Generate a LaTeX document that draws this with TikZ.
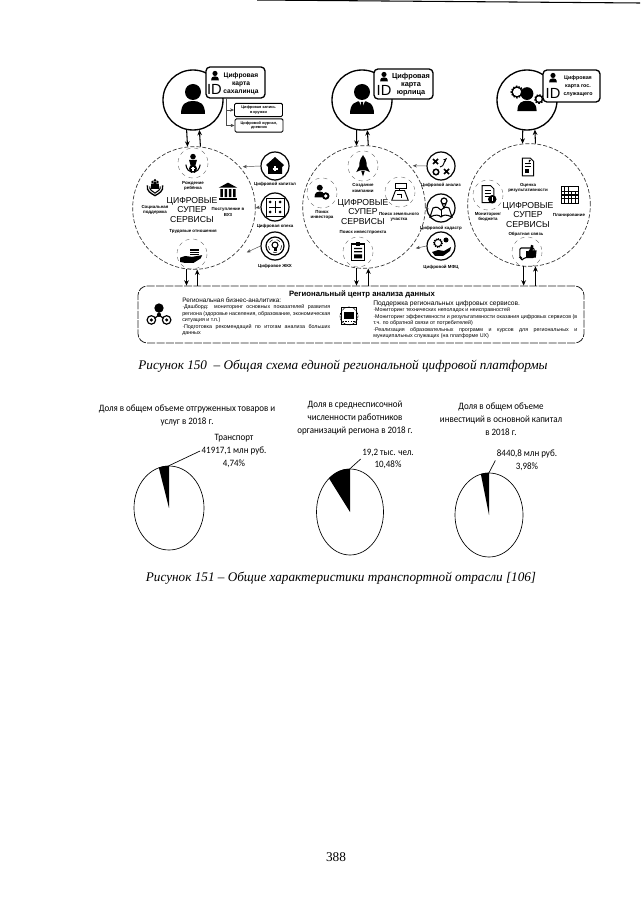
\documentclass[tikz,border=0pt]{standalone}
\usepackage{fontspec}
\setmainfont{Liberation Sans}
\newfontfamily\capfont{Liberation Serif}
\newfontfamily\piefont[FakeStretch=0.92]{Carlito}
\usetikzlibrary{arrows.meta,positioning,calc,shapes.geometric}

\tikzset{
    usrcircle/.style={circle, draw=black, line width=1pt, fill=white, minimum size=45pt, inner sep=0pt},
    srvcircle/.style={circle, draw=black!80, line width=0.5pt, dash pattern=on 3pt off 1.5pt, minimum size=92pt, inner sep=0pt},
    digcircle/.style={circle, draw=black, line width=0.9pt, fill=white, minimum size=21pt, inner sep=0pt},
    halo/.style={draw=black!60, line width=0.3pt, dash pattern=on 3pt off 3pt},
    idcard/.style={draw=black, line width=1pt, rounded corners=3pt, fill=white, inner sep=0pt},
    idtext/.style={font=\fontsize{5}{6}\selectfont\bfseries, align=center, inner sep=0pt},
    idmark/.style={font=\fontsize{11}{11}\selectfont, inner sep=0pt},
    subbox/.style={draw=black, line width=0.7pt, rounded corners=1pt, fill=white, minimum width=36pt, minimum height=10pt, font=\fontsize{2.9}{3.5}\selectfont\bfseries, align=center, inner sep=0pt},
    srvtext/.style={font=\fontsize{6.5}{6.9}\selectfont, align=center, inner sep=0pt},
    tinylabel/.style={font=\fontsize{3.3}{4}\selectfont\bfseries, align=center, inner sep=0pt},
    flowline/.style={-{Stealth[length=4pt,width=3.5pt]}, line width=0.8pt},
    feedline/.style={-{Stealth[length=3pt,width=2.5pt]}, line width=0.35pt, black!70},
    hubbox/.style={draw=black!85, line width=0.6pt, dash pattern=on 6pt off 1pt, rounded corners=7pt, minimum width=334.5pt, minimum height=42.75pt, inner sep=0pt},
    hubtext/.style={font=\fontsize{4}{4.9}\selectfont, text justified, inner sep=0pt, anchor=north west},
    pieshape/.style={ellipse, draw=black, line width=0.5pt, inner sep=0pt},
    pietext/.style={font=\piefont\fontsize{7.3}{9.6}\selectfont, align=center, inner sep=0pt},
    captext/.style={font=\capfont\itshape\fontsize{9.9}{12}\selectfont, inner sep=0pt},
    pics/personicon/.style={code={
        \fill (0,-8) circle (8);
        \fill (-12,14) .. controls (-12,3) and (-6,1) .. (0,1) .. controls (6,1) and (12,3) .. (12,14) -- cycle;
    }},
    pics/suiticon/.style={code={
        \pic {personicon};
        \fill[white] (-3,1) -- (3,1) -- (0,8) -- cycle;
        \fill (-1,2) -- (1,2) -- (1.6,9) -- (0,12) -- (-1.6,9) -- cycle;
    }},
    pics/gearicon/.style={code={
        \draw[line width=1.5pt, dash pattern=on 1pt off 1pt] (-10,-8) circle (5.5);
        \draw[line width=1.5pt, dash pattern=on 1pt off 1pt] (12,-1) circle (4);
        \draw[line width=1pt] (-10,-8) circle (5);
        \draw[line width=1pt] (12,-1) circle (3.5);
        \pic[scale=0.8] {personicon};
    }},
    pics/homeicon/.style={code={
        \fill (-9,-1) -- (0,-9) -- (9,-1) -- (7,1) -- (7,8) -- (-7,8) -- (-7,1) -- cycle;
        \draw[white, line width=0.8pt] (-2.5,3) -- (2.5,3) (0,0.5) -- (0,5.5);
    }},
    pics/boardicon/.style={code={
        \draw[line width=0.7pt] (-9,-9) rectangle (9,9);
        \draw[line width=0.7pt] (-6,0) -- (6,0) (0,-6) -- (0,6);
        \fill (-5,-5) circle (1.5) (5,5) circle (1.5) (-5,5) circle (1.5) (5,-5) circle (1.5);
    }},
    pics/bulbicon/.style={code={
        \draw[line width=0.9pt] (0,0) circle (9);
        \draw[line width=0.4pt, dashed] (0,0) circle (6.5);
        \draw[line width=0.8pt] (0,-1) circle (3);
        \fill (-1.5,2.5) rectangle (1.5,5);
    }},
    pics/tacticicon/.style={code={
        \draw[line width=1.1pt] (-8,-7) -- (-3,-2) (-8,-2) -- (-3,-7);
        \draw[line width=1.1pt] (3,3) -- (8,8) (3,8) -- (8,3);
        \draw[line width=1.1pt] (-5,6) circle (2.8);
        \draw[-{Stealth[length=3pt]}, line width=0.7pt] (-1,1) .. controls (4,0) and (2,-4) .. (6,-8);
    }},
    pics/mapicon/.style={code={
        \draw[line width=0.8pt] (-11,9) -- (-8,0) .. controls (-4,-2) and (-2,0) .. (0,2) .. controls (2,0) and (4,-2) .. (8,0) -- (11,9) .. controls (5,6) and (2,7) .. (0,9) .. controls (-2,7) and (-5,6) .. (-11,9) -- cycle;
        \draw[line width=0.7pt] (0,2) -- (0,9);
        \draw[line width=0.9pt] (3,-7) circle (3);
        \draw[line width=0.8pt] (1,-4.5) -- (3,0) -- (5,-4.5);
    }},
    pics/servicon/.style={code={
        \draw[line width=1.1pt, dash pattern=on 0.8pt off 0.8pt] (-3,-3) circle (4.2);
        \draw[line width=0.7pt] (-3,-3) circle (3.6);
        \fill (5,-6) circle (2.5);
        \fill (-9,6) -- (-3,4) -- (3,5) -- (10,1) -- (9,5) -- (2,10) -- (-6,10) -- cycle;
    }},
    pics/babyicon/.style={code={
        \fill (0,-8) circle (3.5);
        \fill (-5,-4) -- (5,-4) -- (3,3) -- (-3,3) -- cycle;
        \fill (0,7) circle (5);
        \draw[white, line width=0.8pt] (-2.5,7) -- (2.5,7) (0,4.5) -- (0,9.5);
        \draw[line width=0.8pt] (-9,2) .. controls (-8,8) and (-5,11) .. (-1,12);
        \draw[line width=0.8pt] (9,2) .. controls (8,8) and (5,11) .. (1,12);
    }},
    pics/handsicon/.style={code={
        \fill (-3,-7) circle (1.6) (0,-9) circle (1.8) (3,-7) circle (1.6);
        \fill (-4.5,-5) rectangle (-1.5,1) (-1.5,-7) rectangle (1.5,1) (1.5,-5) rectangle (4.5,1);
        \draw[line width=1pt] (-9,-3) .. controls (-10,4) and (-5,6) .. (0,9) .. controls (5,6) and (10,4) .. (9,-3);
        \draw[line width=0.8pt] (-6,-2) .. controls (-7,2) and (-3,4) .. (0,6) .. controls (3,4) and (7,2) .. (6,-2);
    }},
    pics/bankicon/.style={code={
        \fill (-11,-5) -- (0,-11) -- (11,-5) -- cycle;
        \fill (-9,-3.5) rectangle (-6,6) (-4,-3.5) rectangle (-1,6) (1,-3.5) rectangle (4,6) (6,-3.5) rectangle (9,6);
        \fill (-11,7) rectangle (11,10);
    }},
    pics/stackicon/.style={code={
        \fill (-2,-8) rectangle (8,-1);
        \draw[white, line width=0.4pt] (-2,-5.5) -- (8,-5.5) (-2,-3) -- (8,-3);
        \fill (-14,2) -- (-8,0) -- (0,1) -- (12,-1) -- (10,3) -- (2,8) -- (-9,8) -- (-14,7) -- cycle;
    }},
    pics/rocketicon/.style={code={
        \fill (0,-14) .. controls (5,-8) and (5,-2) .. (3.5,4) -- (-3.5,4) .. controls (-5,-2) and (-5,-8) .. (0,-14) -- cycle;
        \fill (-4,-2) -- (-8,6) -- (-3.5,4) -- cycle (4,-2) -- (8,6) -- (3.5,4) -- cycle;
        \fill (-2,5) -- (2,5) -- (0,11) -- cycle;
    }},
    pics/investicon/.style={code={
        \fill (-3,-7) circle (4);
        \fill (-10,6) .. controls (-10,-1) and (-6,-2) .. (-3,-2) .. controls (0,-2) and (2,-1) .. (3,2) -- (3,6) -- cycle;
        \fill (5,4) circle (5);
        \fill[white] (5,4) circle (2.5);
    }},
    pics/landicon/.style={code={
        \draw[line width=0.7pt] (-6,-2) -- (6,-2) -- (11,11) -- (-11,11) -- cycle;
        \draw[line width=0.7pt] (-1,-2) -- (-1,-9);
        \draw[line width=0.7pt, fill=white] (-6,-11) rectangle (8,-5);
        \draw[line width=0.4pt] (-4,3) -- (2,3) -- (2,8);
    }},
    pics/clipicon/.style={code={
        \draw[line width=0.9pt] (-8,-10) rectangle (8,11);
        \fill (-3,-12) rectangle (3,-8);
        \fill (-5,-5) rectangle (5,-3.5) (-5,-1) rectangle (5,0.5) (-5,3) rectangle (5,8);
    }},
    pics/reporticon/.style={code={
        \draw[line width=0.7pt] (-7,-11) -- (3,-11) -- (7,-7) -- (7,11) -- (-7,11) -- cycle;
        \draw[line width=0.5pt] (-4,-4) -- (4,-4) (-4,-1) -- (4,-1);
        \fill (-4,2) rectangle (1,8);
        \fill (1,-9) -- (4,-9) -- (1,-5) -- cycle;
    }},
    pics/budgeticon/.style={code={
        \draw[line width=0.7pt] (-7,-11) -- (3,-11) -- (7,-7) -- (7,9) -- (-7,9) -- cycle;
        \draw[line width=0.5pt] (-4,-5) -- (3,-5) (-4,-2) -- (3,-2) (-4,1) -- (1,1);
        \fill (5,5) circle (5);
        \fill[white] (4.3,2.5) rectangle (5.7,7.5);
    }},
    pics/gridicon/.style={code={
        \draw[line width=0.7pt] (-10,-10) rectangle (10,10);
        \draw[line width=0.8pt] (-6,-10) -- (-6,10) (-2,-10) -- (-2,10) (2,-4) -- (2,10) (6,-4) -- (6,10);
        \draw[line width=0.8pt] (-10,-4) -- (10,-4) (-10,0) -- (10,0) (-10,4) -- (10,4);
    }},
    pics/thumbicon/.style={code={
        \draw[line width=0.8pt, rounded corners=1pt] (-9,-5) -- (9,-5) -- (9,7) -- (-3,7) -- (-7,11) -- (-7,7) -- (-9,7) -- cycle;
        \fill (-1,-1) rectangle (1,7);
        \fill (1,0) -- (4,-4) -- (5,-9) -- (8,-8) -- (7,-2) -- (12,-2) -- (11,7) -- (1,7) -- cycle;
    }},
    pics/hubicon/.style={code={
        \fill (0,-7) circle (5.5);
        \draw[line width=0.9pt] (-9,7) circle (5);
        \draw[line width=0.9pt] (9,7) circle (5);
        \fill (0,1) circle (2.5);
        \draw[line width=0.9pt] (0,-2) -- (0,1) -- (-5,5) (0,1) -- (5,5);
        \fill (-9,7) circle (2) (9,7) circle (2);
    }},
    pics/chipicon/.style={code={
        \draw[line width=0.5pt, dash pattern=on 1.5pt off 0.7pt] (0,0) circle (10);
        \draw[line width=0.7pt] (-8,-9) rectangle (8,9);
        \fill (-6,-5) rectangle (6,3);
        \draw[line width=0.6pt, dash pattern=on 1pt off 1pt] (-7,6) -- (7,6);
    }}
}

\begin{document}
\begin{tikzpicture}[x=0.75pt, y=-0.75pt]
    \useasboundingbox (0,0) rectangle (640,905);
    \fill[white] (0,0) rectangle (640,905);

    % Page rule
    \coordinate (rulea) at (257,0);
    \coordinate (ruleb) at (640,3);
    \draw[line width=0.8pt] (rulea) -- (ruleb);

    % Service circles
    \node[srvcircle] (srv1) at (194,208) {};
    \node[srvcircle] (srv2) at (364,207) {};
    \node[srvcircle] (srv3) at (529,205) {};
    \node[srvtext] (srvt1) at (192,210) {ЦИФРОВЫЕ\\СУПЕР\\СЕРВИСЫ};
    \node[srvtext] (srvt2) at (363,212) {ЦИФРОВЫЕ\\СУПЕР\\СЕРВИСЫ};
    \node[srvtext] (srvt3) at (528,215) {ЦИФРОВЫЕ\\СУПЕР\\СЕРВИСЫ};

    % User circles
    \node[usrcircle] (usr1) at (193,100) {};
    \node[usrcircle] (usr2) at (362,100) {};
    \node[usrcircle] (usr3) at (527,100) {};
    \pic at (193,100) {personicon};
    \pic at (362,100) {suiticon};
    \pic at (527,100) {gearicon};

    % Id cards
    \node[idcard, minimum width=44.25pt, minimum height=23.25pt] (crd1) at (235.5,82.5) {};
    \node[idcard, minimum width=44.25pt, minimum height=22.5pt] (crd2) at (403.5,84) {};
    \node[idcard, minimum width=42.75pt, minimum height=24pt] (crd3) at (571.5,86) {};
    \pic[scale=0.32] at (215,76) {personicon};
    \pic[scale=0.32] at (384,77) {personicon};
    \pic[scale=0.32] at (553,78) {personicon};
    \node[idmark] (idm1) at (214.5,89) {ID};
    \node[idmark] (idm2) at (384,90) {ID};
    \node[idmark] (idm3) at (553,93) {ID};
    \node[idtext] (idt1) at (241,84) {Цифровая\\карта\\сахалинца};
    \node[idtext, font=\fontsize{5.5}{6}\selectfont\bfseries] (idt2) at (411,84.5) {Цифровая\\карта\\юрлица};
    \node[idtext, font=\fontsize{4}{6}\selectfont\bfseries] (idt3) at (578,86) {Цифровая\\карта гос.\\служащего};

    % Sub boxes of the first card
    \node[subbox] (sub1) at (258.5,110) {Цифровая запись\\в кружки};
    \node[subbox] (sub2) at (259,125.5) {Цифровой журнал,\\дневник};
    \coordinate (subj) at (226,98);
    \draw[feedline] (subj) |- (sub1.west);
    \draw[feedline] (subj) |- (sub2.west);

    % User arrows
    \draw[flowline] (usr1.258) -- (srv1.96);
    \draw[flowline] (srv1.84) -- (usr1.282);
    \draw[flowline] (usr2.260) -- (srv2.97);
    \draw[flowline] (srv2.86) -- (usr2.280);
    \draw[flowline] (usr3.262) -- (srv3.96);
    \draw[flowline] (srv3.84) -- (usr3.285);

    % First circle
    \pic[scale=0.8] at (193,163) {babyicon};
    \draw[halo] (193,163) circle (15);
    \node[tinylabel] (lab11) at (193,186) {Рождение\\ребёнка};
    \pic[scale=0.85] at (155,188) {handsicon};
    \node[tinylabel] (lab12) at (155,210) {Социальная\\поддержка};
    \pic[scale=0.85] at (228,192) {bankicon};
    \node[tinylabel] (lab13) at (228,212) {Поступление в\\ВУЗ};
    \node[tinylabel] (lab14) at (193,231) {Трудовые отношения};
    \pic[scale=0.85] at (192,256) {stackicon};
    \draw[halo] (192,254) circle (15);

    % Second circle
    \pic[scale=0.85] at (363,167) {rocketicon};
    \draw[halo] (363,166) circle (15);
    \node[tinylabel] (lab21) at (363,188) {Создание\\компании};
    \pic[scale=0.75] at (322,193) {investicon};
    \draw[halo] (322,193) circle (15);
    \node[tinylabel] (lab22) at (322,215) {Поиск\\инвестора};
    \pic[scale=0.75] at (400,192) {landicon};
    \draw[halo] (400,192) circle (15);
    \node[tinylabel] (lab23) at (399,217) {Поиск земельного\\участка};
    \node[tinylabel] (lab24) at (363,232) {Поиск инвестпроекта};
    \pic[scale=0.8] at (358,252) {clipicon};
    \draw[halo] (358,252) circle (15);

    % Third circle
    \pic[scale=0.8] at (528,167) {reporticon};
    \node[tinylabel] (lab31) at (528,188) {Оценка\\результативности};
    \pic[scale=0.85] at (488,195) {budgeticon};
    \draw[halo] (488,195) circle (15);
    \node[tinylabel] (lab32) at (488,217) {Мониторинг\\бюджета};
    \pic[scale=0.85] at (570,195) {gridicon};
    \node[tinylabel] (lab33) at (569,215) {Планирование};
    \node[tinylabel] (lab34) at (526,234) {Обратная связь};
    \pic[scale=0.8] at (527,252) {thumbicon};
    \draw[halo] (527,252) circle (15);

    % Digital services, left
    \node[digcircle] (dig11) at (275,166) {};
    \node[digcircle] (dig12) at (275,207) {};
    \node[digcircle] (dig13) at (275,246) {};
    \pic at (275,166) {homeicon};
    \pic at (275,207) {boardicon};
    \pic at (275,246) {bulbicon};
    \node[tinylabel] (lab15) at (275,184) {Цифровой капитал};
    \node[tinylabel] (lab16) at (275,226) {Цифровая опека};
    \node[tinylabel] (lab17) at (275,266) {Цифровое ЖКХ};
    \draw[feedline] (dig11.west) -- ($(srv1.42)+(3,0)$);
    \draw[feedline] (dig12.west) -- (srv1.east);
    \draw[feedline] (dig13.west) -- ($(srv1.-46)+(10,0)$);

    % Digital services, right
    \node[digcircle] (dig21) at (441,166) {};
    \node[digcircle] (dig22) at (441,208) {};
    \node[digcircle] (dig23) at (441,246) {};
    \pic at (441,166) {tacticicon};
    \pic at (441,208) {mapicon};
    \pic at (441,246) {servicon};
    \node[tinylabel] (lab25) at (441,185) {Цифровой анализ};
    \node[tinylabel] (lab26) at (441,228) {Цифровой кадастр};
    \node[tinylabel] (lab27) at (441,267) {Цифровой МФЦ};
    \draw[feedline] (dig21.west) -- ($(srv2.42)+(3,0)$);
    \draw[feedline] (dig22.west) -- (srv2.east);
    \draw[feedline] (dig23.west) -- ($(srv2.-42)+(6,0)$);

    % Regional centre
    \node[hubbox] (hub) at (361,314.5) {};
    \node[font=\fontsize{5.8}{6}\selectfont\bfseries, inner sep=0pt] (hubt) at (362,294) {Региональный центр анализа данных};
    \pic[scale=0.85] at (159,314) {hubicon};
    \pic[scale=0.9] at (349,316) {chipicon};
    \node[font=\fontsize{4.8}{5}\selectfont, inner sep=0pt, anchor=west] (hubl) at (182,300) {Региональная бизнес-аналитика:};
    \node[hubtext, text width=111pt] (hubla) at (182,304.5) {·Дашборд: мониторинг основных показателей развития региона (здоровье населения, образование, экономическая\linebreak[4] ситуация и т.п.)\\[0pt]·Подготовка рекомендаций по итогам анализа больших данных};
    \node[font=\fontsize{5}{5}\selectfont, inner sep=0pt, anchor=west] (hubr) at (373,304) {Поддержка региональных цифровых сервисов.};
    \node[hubtext, text width=153pt] (hubra) at (373,307.5) {·Мониторинг технических неполадок и неисправностей\\[0pt]·Мониторинг эффективности и результативности оказания цифровых сервисов (в т.ч. по обратной связи от потребителей)\\[0pt]·Реализация образовательных программ и курсов для региональных и муниципальных служащих (на платформе UX)};

    % Arrows to the centre
    \draw[flowline] (srv1.263) -- (srv1.263 |- hub.north);
    \draw[flowline] (srv1.273 |- hub.north) -- (srv1.273);
    \draw[flowline] (srv2.263) -- (srv2.263 |- hub.north);
    \draw[flowline] (srv2.274 |- hub.north) -- (srv2.274);
    \draw[flowline] (srv3.265) -- (srv3.265 |- hub.north);
    \draw[flowline] (srv3.276 |- hub.north) -- (srv3.276);

    % Captions
    \node[captext] (cap1) at (343,366) {Рисунок 150 \ – Общая схема единой региональной цифровой платформы};
    \node[captext] (cap2) at (341,578) {Рисунок 151 – Общие характеристики транспортной отрасли [106]};

    % Pies
    \node[pieshape, minimum width=52.5pt, minimum height=63pt] (pie1) at (169,508) {};
    \node[pieshape, minimum width=50.25pt, minimum height=64.5pt] (pie2) at (350,512) {};
    \node[pieshape, minimum width=51pt, minimum height=63pt] (pie3) at (489,515) {};
    \fill (pie1.center) -- (pie1.north) arc[start angle=90, end angle=107, x radius=26.25pt, y radius=31.5pt] -- cycle;
    \fill (pie2.center) -- (pie2.north) arc[start angle=90, end angle=129, x radius=25.1pt, y radius=32.25pt] -- cycle;
    \fill (pie3.center) -- (pie3.north) arc[start angle=90, end angle=104, x radius=25.5pt, y radius=31.5pt] -- cycle;

    \node[pietext] (tit1) at (187,415.5) {Доля в общем объеме отгруженных товаров и\\услуг в 2018 г.};
    \node[pietext] (tit2) at (355,418) {Доля в среднесписочной\\численности работников\\организаций региона в 2018 г.};
    \node[pietext] (tit3) at (501,419.5) {Доля в общем объеме\\инвестиций в основной капитал\\в 2018 г.};
    \node[pietext] (val1) at (234,451) {Транспорт\\41917,1 млн руб.\\4,74\%};
    \node[pietext] (val2) at (388,459) {19,2 тыс. чел.\\10,48\%};
    \node[pietext] (val3) at (527,460.5) {8440,8 млн руб.\\3,98\%};
    \draw[line width=0.5pt] (pie1.north) -- ([xshift=-1pt]val1.west);
    \draw[line width=0.5pt] (pie2.north) -- ([xshift=-1pt]val2.west);
    \draw[line width=0.5pt] (pie3.north) -- ([xshift=-1pt]val3.west);

    % Page number
    \node[font=\capfont\fontsize{10}{12}\selectfont, inner sep=0pt] (pagenr) at (336,857) {388};
\end{tikzpicture}
\end{document}
